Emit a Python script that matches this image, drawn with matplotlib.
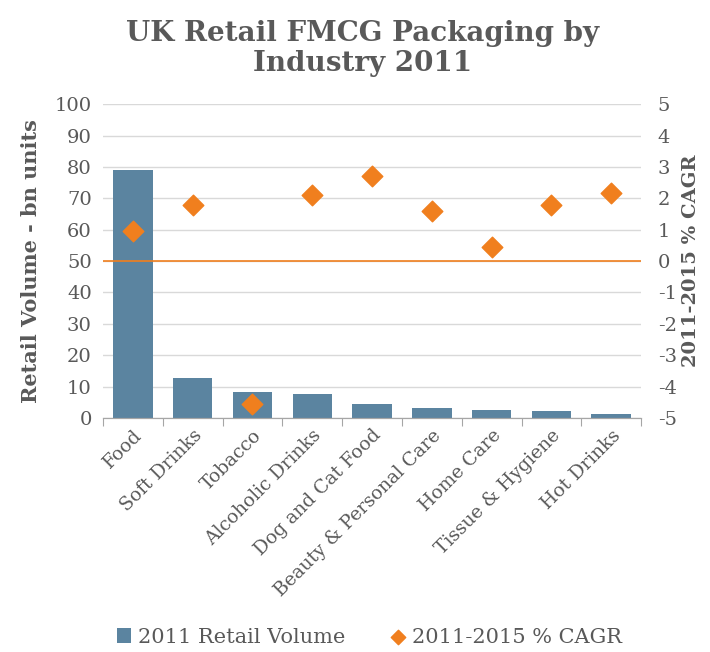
import numpy as np
import matplotlib.pyplot as plt

# data
categories = ['Food', 'Soft Drinks', 'Tobacco', 'Alcoholic Drinks', 'Dog and Cat Food',
              'Beauty & Personal Care', 'Home Care', 'Tissue & Hygiene', 'Hot Drinks']
volume = [79.1, 12.8, 8.4, 7.6, 4.4, 3.2, 2.5, 2.3, 1.2]
cagr = [0.97, 1.79, -4.55, 2.12, 2.72, 1.61, 0.44, 1.79, 2.17]

BAR_C = '#5B84A0'
ORANGE = '#F07F1E'
TXT = '#595959'
FONT = 'DejaVu Serif'


def main():
    plt.rcParams['font.family'] = FONT
    plt.rcParams['axes.unicode_minus'] = False

    fig = plt.figure(figsize=(7.1, 6.52), dpi=100)
    ax1 = fig.add_axes([0.145, 0.359, 0.758, 0.481])
    ax2 = ax1.twinx()

    x = np.arange(len(categories))
    b = ax1.bar(x, volume, width=0.66, color=BAR_C, zorder=2, label='2011 Retail Volume')
    ax1.set_ylim(0, 100)
    ax1.set_yticks(np.arange(0, 101, 10))
    ax1.set_xlim(-0.5, len(categories) - 0.5)
    ax1.yaxis.grid(True, color='#D9D9D9', linewidth=1, zorder=0)
    ax1.set_axisbelow(True)

    ax2.axhline(0, color=ORANGE, linewidth=1.2, zorder=1)
    s = ax2.scatter(x, cagr, marker='D', s=110, color=ORANGE, zorder=3,
                    label='2011-2015 % CAGR')
    ax2.set_ylim(-5, 5)
    ax2.set_yticks(np.arange(-5, 6, 1))

    for a in (ax1, ax2):
        for sp in ('top', 'left', 'right'):
            a.spines[sp].set_visible(False)
        a.spines['bottom'].set_color('#A6A6A6')
        a.tick_params(axis='y', length=0, labelsize=14, colors=TXT)

    ax1.tick_params(axis='y', pad=8)
    ax2.tick_params(axis='y', pad=12)

    # category boundaries get the tick marks
    ax1.set_xticks(np.arange(-0.5, len(categories), 1), minor=False)
    ax1.set_xticklabels([])
    ax1.tick_params(axis='x', which='major', length=6, color='#A6A6A6')
    ax1.set_xticks(x, minor=True)
    ax1.set_xticklabels(categories, minor=True, rotation=45, ha='right',
                        rotation_mode='anchor', fontsize=13.5, color=TXT)
    ax1.tick_params(axis='x', which='minor', length=0, pad=6)

    ax1.set_ylabel('Retail Volume - bn units', fontsize=15, fontweight='bold',
                   color=TXT, labelpad=10)
    ax2.set_ylabel('2011-2015 % CAGR', fontsize=14, fontweight='bold',
                   color=TXT, labelpad=4)

    fig.suptitle('UK Retail FMCG Packaging by\nIndustry 2011', x=0.51, y=0.97,
                 fontsize=20, fontweight='bold', color=TXT, linespacing=1.15)

    fig.legend([b, s], ['2011 Retail Volume', '2011-2015 % CAGR'],
               loc='center', bbox_to_anchor=(0.52, 0.023), ncol=2, frameon=False,
               fontsize=15, labelcolor=TXT, handlelength=0.7, handletextpad=0.3,
               columnspacing=2.2, markerscale=0.7)

    plt.savefig('out.png', dpi=100)
    plt.close()


if __name__ == "__main__":
    main()
